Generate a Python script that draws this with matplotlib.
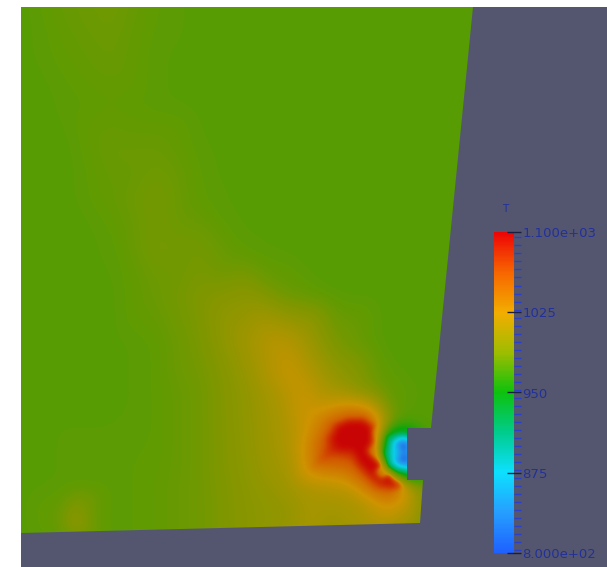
import numpy as np
import matplotlib
matplotlib.use("Agg")
import matplotlib.pyplot as plt
import matplotlib.tri as mtri
from matplotlib.colors import LinearSegmentedColormap, Normalize
from matplotlib.cm import ScalarMappable
from matplotlib.patches import Polygon
from matplotlib.ticker import MultipleLocator, FixedLocator

## colour scale of T
cbar_T = [800, 837.5, 875, 912.5, 950, 987.5, 1025, 1062.5, 1100]
cbar_rgb = [(0.12, 0.38, 1.00), (0.15, 0.62, 1.00), (0.05, 0.88, 1.00),
            (0.00, 0.80, 0.55), (0.05, 0.76, 0.05), (0.62, 0.74, 0.00),
            (0.95, 0.68, 0.00), (0.97, 0.40, 0.00), (0.93, 0.02, 0.02)]
# the rendered surface is lit, so its colours are a bit darker than the legend
lit = [0.90, 0.92, 0.92, 0.90, 0.86, 0.80, 0.85, 0.85, 0.85]
tick_values = [800, 875, 950, 1025, 1100]
tick_labels = ["8.000e+02", "875", "950", "1025", "1.100e+03"]

## outline of the fluid region (screen units, y down)
wall_x = [21, 473, 431, 407, 407, 423, 420, 21]
wall_y = [7, 7, 428, 428, 480, 480, 523, 533]

## coarse grid of T
grid_x = [21, 66, 111, 156, 201, 246, 291, 336, 381, 426, 473]
grid_y = [7, 55, 103, 151, 199, 247, 295, 343, 391, 439, 487, 535]
grid_T = [
    [975, 980, 983, 977, 975, 975, 975, 975, 975, 975, 975],
    [975, 978, 981, 976, 975, 975, 975, 975, 975, 975, 975],
    [975, 976, 978, 976, 975, 975, 975, 975, 975, 975, 975],
    [975, 975, 981, 981, 976, 975, 975, 975, 975, 975, 975],
    [975, 975, 979, 985, 977, 975, 975, 975, 975, 975, 975],
    [975, 975, 976, 985, 984, 976, 975, 975, 975, 975, 975],
    [975, 975, 975, 981, 988, 993, 980, 975, 975, 975, 975],
    [975, 975, 975, 977, 986, 1003, 1012, 985, 975, 975, 975],
    [975, 975, 975, 977, 983, 996, 1014, 1002, 980, 975, 975],
    [975, 976, 976, 977, 983, 995, 1010, 1100, 1000, 975, 975],
    [975, 976, 976, 978, 983, 993, 1003, 1012, 1075, 985, 975],
    [975, 978, 976, 978, 983, 992, 1003, 1000, 1005, 985, 975],
]

## plume core
plume_x = [262, 275, 288, 298, 310, 320]
plume_y = [320, 345, 370, 395, 415, 430]
plume_T = [1005, 1015, 1022, 1025, 1025, 1035]

## hot jet
hot_x = [340, 350, 362, 370, 336, 348, 360, 370, 342, 354, 364, 372, 380, 388, 394, 362, 372, 382,
         330, 332, 320, 328, 345, 365, 380, 379, 338, 350, 360, 372, 388, 400, 405, 345, 370]
hot_y = [428, 424, 424, 430, 438, 436, 436, 442, 448, 448, 452, 460, 468, 476, 484, 462, 472, 482,
         440, 450, 442, 422, 414, 414, 425, 440, 460, 470, 482, 493, 495, 494, 487, 485, 505]
hot_T = [1100, 1100, 1100, 1100, 1100, 1100, 1100, 1100, 1100, 1100, 1100, 1100, 1100, 1100, 1095,
         1100, 1100, 1095,
         1085, 1085, 1050, 1045, 1040, 1040, 1030, 1010, 1060, 1045, 1040, 1040, 1045, 1030, 1040,
         1015, 1010]

## cold inlet
cold_x = [401, 405, 401, 405, 400, 405, 394, 394, 392, 388, 388, 386,
          383, 383, 381, 394, 394, 405, 405, 378, 395, 410]
cold_y = [446, 446, 460, 460, 453, 453, 444, 462, 453, 440, 466, 453,
          436, 470, 453, 433, 473, 431, 476, 432, 425, 425]
cold_T = [805, 805, 805, 805, 850, 830, 870, 870, 880, 920, 920, 925,
          950, 955, 950, 945, 950, 950, 955, 985, 978, 975]

## warm streaks along the floor
floor_x = [75, 75, 62, 88, 310, 310, 298, 322, 370, 370]
floor_y = [510, 528, 520, 520, 505, 527, 520, 520, 508, 524]
floor_T = [995, 1008, 980, 980, 1008, 1012, 998, 1000, 1010, 1012]

bg = "#545670"
label_col = "#22309a"

def smooth(field, sigma):
    # separable gaussian blur, edges padded
    r = int(3 * sigma)
    k = np.exp(-0.5 * (np.arange(-r, r + 1) / sigma) ** 2)
    k /= k.sum()
    p = np.pad(field, r, mode="edge")
    p = np.apply_along_axis(lambda v: np.convolve(v, k, mode="valid"), 1, p)
    p = np.apply_along_axis(lambda v: np.convolve(v, k, mode="valid"), 0, p)
    return p

def main():
    fig = plt.figure(figsize=(6.07, 5.67), dpi=100)
    ax = fig.add_axes([21 / 607, 0, 586 / 607, 560 / 567])
    ax.set_facecolor(bg)
    ax.axis("off")
    ax.add_patch(plt.Rectangle((21, 7), 586, 560, color=bg, zorder=0))

    cmap_bar = LinearSegmentedColormap.from_list(
        "T", [((t - 800) / 300, c) for t, c in zip(cbar_T, cbar_rgb)])
    cmap_field = LinearSegmentedColormap.from_list(
        "Tlit", [((t - 800) / 300, tuple(f * v for v in c))
                 for t, c, f in zip(cbar_T, cbar_rgb, lit)])
    norm = Normalize(800, 1100)

    gx, gy = np.meshgrid(grid_x, grid_y)
    px = np.concatenate([gx.ravel(), plume_x, hot_x, cold_x, floor_x]).astype(float)
    py = np.concatenate([gy.ravel(), plume_y, hot_y, cold_y, floor_y]).astype(float)
    pT = np.concatenate([np.array(grid_T).ravel(), plume_T, hot_T, cold_T, floor_T]).astype(float)
    tri = mtri.Triangulation(px, py)
    interp = mtri.LinearTriInterpolator(tri, pT)
    xs = np.arange(grid_x[0], grid_x[-1] + 1)
    ys = np.arange(grid_y[0], grid_y[-1] + 1)
    X, Y = np.meshgrid(xs, ys)
    T_raw = interp(X, Y).filled(975)
    # soft blur for the gentle background, tight blur where the jet is strong
    T_fine = smooth(T_raw, 3.0)
    T_soft = smooth(T_raw, 9.0)
    w = np.clip((np.abs(T_fine - 995) - 35) / 30, 0, 1)
    T_img = w * T_fine + (1 - w) * T_soft

    img = ax.imshow(T_img, cmap=cmap_field, norm=norm, interpolation="bilinear",
                    extent=(xs[0] - 0.5, xs[-1] + 0.5, ys[-1] + 0.5, ys[0] - 0.5), zorder=1)
    ax.set_xlim(21, 607)
    ax.set_ylim(567, 7)
    wall = Polygon(np.column_stack([wall_x, wall_y]), closed=True,
                   facecolor="none", edgecolor="none", transform=ax.transData)
    ax.add_patch(wall)
    img.set_clip_path(wall)

    cax = fig.add_axes([494 / 607, 1 - 553 / 567, 20 / 607, 321 / 567])
    cb = fig.colorbar(ScalarMappable(norm=norm, cmap=cmap_bar), cax=cax)
    cb.outline.set_visible(False)
    cax.yaxis.set_major_locator(FixedLocator(tick_values))
    cax.set_yticklabels(tick_labels)
    cax.yaxis.set_minor_locator(MultipleLocator(7.5))
    cax.tick_params(which="major", direction="inout", length=10, width=1,
                    color="#1a1e40", labelcolor=label_col, labelsize=9.5, pad=1)
    cax.tick_params(which="minor", direction="out", length=5, width=1, color="#2a40c8")
    fig.text(505 / 607, 1 - 209 / 567, "T", color=label_col, fontsize=7.5,
             ha="center", va="center")

    fig.savefig("out.png", dpi=100, facecolor="white")

if __name__ == "__main__":
    main()
